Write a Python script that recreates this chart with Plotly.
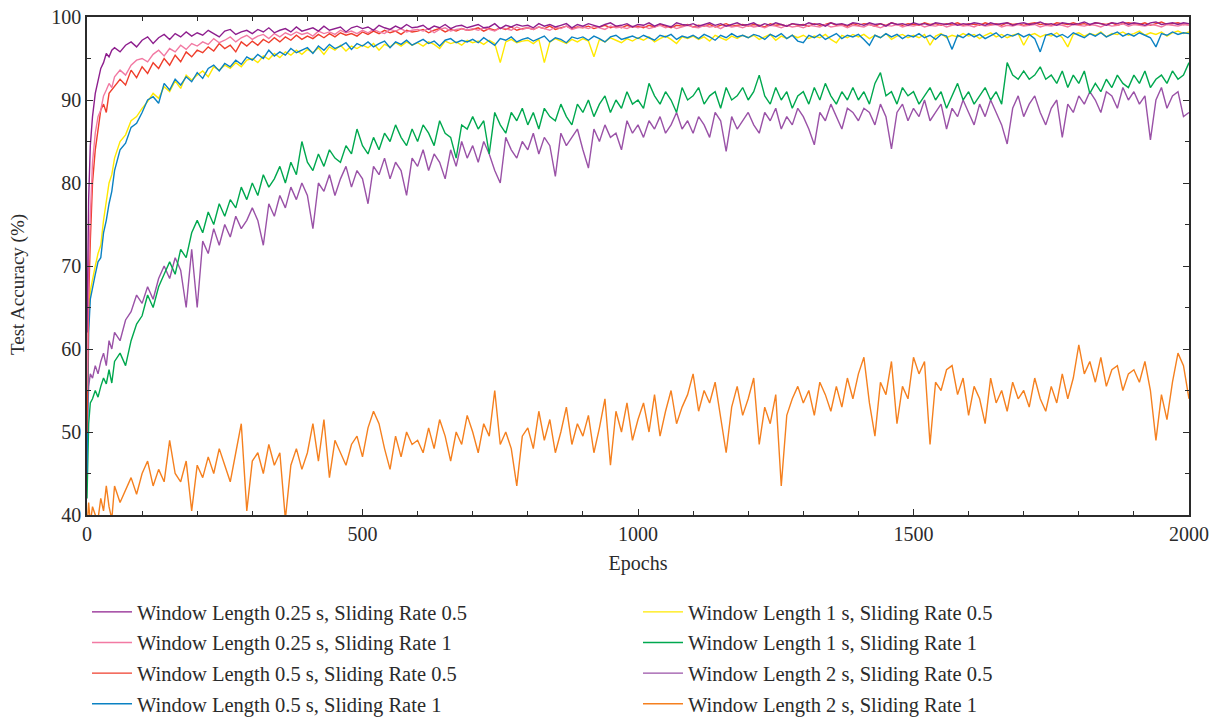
import plotly.graph_objects as go

# ---------------- data ----------------
EARLY_EPOCHS = [0, 3, 6, 10, 15, 20, 25, 30, 35, 40, 45]
EPOCHS = EARLY_EPOCHS + list(range(50, 2001, 10))

NAMES = [
    "Window Length 0.25 s, Sliding Rate 0.5",
    "Window Length 0.25 s, Sliding Rate 1",
    "Window Length 0.5 s, Sliding Rate 0.5",
    "Window Length 0.5 s, Sliding Rate 1",
    "Window Length 1 s, Sliding Rate 0.5",
    "Window Length 1 s, Sliding Rate 1",
    "Window Length 2 s, Sliding Rate 0.5",
    "Window Length 2 s, Sliding Rate 1",
]
COLORS = ["#8e1f8e", "#f27aa3", "#ef3e2c", "#0b82c3",
          "#ffe900", "#00a84f", "#9a52a7", "#f5801f"]

wl025_sr05 = [
    62.0, 78.0, 84.5, 88.0, 90.8, 92.5, 93.8, 94.5, 95.6, 95.2, 96.0,
    96.3, 95.8, 96.6, 97.0, 96.4,
    97.2, 97.6, 96.8, 97.5, 97.9, 97.3, 98.0, 97.6, 98.2, 97.7,
    98.1, 97.8, 98.4, 98.0, 97.6, 98.3, 98.5, 97.9, 98.2, 98.4,
    98.0, 98.5, 98.2, 98.7, 98.1, 98.4, 98.6, 98.2, 98.8, 98.3,
    98.5, 98.7, 98.3, 98.9, 98.4, 98.6, 98.8, 98.2, 98.7, 98.9,
    98.6, 98.8, 98.4, 99.0, 98.7, 98.5, 98.9, 98.6, 99.1, 98.7,
    98.8, 99.0, 98.5, 98.9, 98.7, 99.1, 98.6, 98.9, 99.0, 98.7,
    98.9, 99.1, 98.7, 98.8, 99.2, 98.6, 99.0, 98.8, 99.1, 98.9,
    99.0, 98.7, 99.2, 98.9, 99.1, 98.8, 99.0, 99.2, 98.7, 99.1,
    98.9, 99.2, 99.0, 98.8, 99.1, 99.3, 98.9, 99.0, 99.2, 98.8,
    99.1, 99.0, 99.3, 98.9, 99.2, 99.0, 98.8, 99.3, 99.1, 99.0,
    99.2, 98.9, 99.1, 99.3, 99.0, 99.2, 98.9, 99.1, 99.3, 99.0,
    99.1, 99.3, 98.9, 99.2, 99.0, 99.3, 99.1, 98.9, 99.2, 99.1,
    99.0, 99.3, 99.1, 99.2, 98.9, 99.3, 99.1, 99.2, 99.0, 99.3,
    99.2, 99.0, 99.3, 99.1, 99.2, 98.9, 99.3, 99.1, 99.2, 99.0,
    99.3, 99.1, 99.2, 99.0, 99.3, 99.2, 99.1, 99.3, 99.0, 99.2,
    99.1, 99.3, 99.2, 99.0, 99.3, 99.1, 99.2, 99.3, 99.0, 99.2,
    99.3, 99.1, 99.2, 99.4, 99.1, 99.2, 99.0, 99.3, 99.2, 99.1,
    99.2, 99.4, 99.1, 99.3, 99.2, 99.0, 99.3, 99.2, 99.4, 99.1,
    99.3, 99.2, 99.0, 99.3, 99.4, 99.1, 99.2, 99.3, 99.1, 99.3,
    99.2,
]

wl025_sr1 = [
    55.0, 70.0, 76.0, 82.5, 86.0, 88.0, 88.8, 90.5, 91.2, 92.0, 91.5,
    92.8, 93.6, 93.0, 94.2, 94.8,
    95.0, 94.6, 95.5, 96.0, 95.3, 96.2, 95.8, 96.6, 96.1, 96.8,
    96.5, 97.0, 96.7, 97.4, 96.9, 97.2, 97.6, 97.0, 97.5, 97.8,
    97.3, 97.7, 97.9, 97.4, 98.0, 97.6, 98.1, 97.8, 98.2, 97.9,
    98.1, 97.7, 98.3, 98.0, 98.2, 97.9, 98.4, 98.1, 98.3, 98.0,
    98.4, 98.1, 98.5, 98.2, 98.0, 98.5, 98.3, 98.6, 98.2, 98.4,
    98.5, 98.3, 98.6, 98.1, 98.5, 98.7, 98.3, 98.5, 98.6, 98.4,
    98.6, 98.4, 98.7, 98.5, 98.3, 98.7, 98.6, 98.4, 98.8, 98.5,
    98.7, 98.5, 98.8, 98.6, 98.4, 98.8, 98.6, 98.9, 98.5, 98.7,
    98.8, 98.6, 98.9, 98.7, 98.5, 98.9, 98.7, 98.8, 98.6, 98.9,
    98.7, 98.9, 98.6, 98.8, 99.0, 98.7, 98.9, 98.6, 98.8, 99.0,
    98.8, 98.7, 99.0, 98.8, 98.9, 98.6, 99.0, 98.8, 98.9, 98.7,
    99.0, 98.8, 98.9, 98.7, 99.0, 98.9, 98.7, 99.0, 98.8, 98.9,
    98.7, 99.0, 98.9, 98.8, 99.1, 98.8, 98.9, 99.0, 98.7, 99.0,
    98.9, 98.8, 99.1, 98.9, 98.7, 99.0, 98.9, 99.1, 98.8, 99.0,
    98.9, 99.1, 98.8, 99.0, 98.9, 99.1, 98.8, 99.0, 99.1, 98.9,
    99.0, 98.8, 99.1, 98.9, 99.0, 99.1, 98.8, 99.0, 98.9, 99.1,
    98.9, 99.0, 99.1, 98.8, 99.0, 98.9, 99.1, 99.0, 98.8, 99.1,
    99.0, 98.9, 99.1, 99.0, 98.8, 99.1, 98.9, 99.0, 99.2, 98.9,
    99.1, 99.0, 98.9, 99.1, 99.0, 98.8, 99.1, 99.0, 98.9, 99.1,
    99.0,
]

wl05_sr05 = [
    50.0, 66.0, 73.0, 80.0, 84.0, 86.5, 88.8, 89.5, 88.5, 90.8, 91.2,
    91.6, 92.5, 91.8, 93.6, 92.7,
    94.0, 93.2, 94.5, 93.8, 95.0, 94.2, 95.4, 94.6, 95.8, 95.2,
    96.0, 95.7, 96.4, 95.9, 96.8, 96.2, 96.6, 95.8, 97.0, 96.5,
    97.1, 96.6, 97.3, 96.9, 97.5, 97.0, 97.6, 97.2, 97.8, 97.3,
    97.7, 97.4, 97.9, 97.5, 98.0, 97.6, 98.1, 97.8, 98.0, 97.7,
    98.2, 97.9, 98.3, 98.0, 98.4, 98.1, 98.3, 97.9, 98.4, 98.2,
    98.3, 98.5, 98.1, 98.4, 98.6, 98.2, 98.5, 98.3, 98.6, 98.4,
    98.5, 98.7, 98.3, 98.6, 98.4, 98.7, 98.5, 98.8, 98.4, 98.6,
    98.7, 98.5, 98.8, 98.6, 98.9, 98.5, 98.7, 98.9, 98.6, 98.8,
    98.7, 98.9, 98.6, 98.8, 99.0, 98.7, 98.9, 98.7, 99.0, 98.8,
    98.9, 98.7, 99.0, 98.8, 99.1, 98.9, 98.7, 99.0, 98.9, 99.1,
    98.8, 99.0, 98.9, 99.1, 98.8, 99.0, 99.2, 98.9, 99.0, 99.1,
    98.9, 99.1, 99.0, 98.8, 99.2, 99.0, 99.1, 98.9, 99.2, 99.0,
    99.1, 98.9, 99.2, 99.0, 99.1, 99.3, 99.0, 99.1, 98.9, 99.2,
    99.0, 99.2, 99.1, 98.9, 99.2, 99.0, 99.3, 99.1, 99.0, 99.2,
    99.1, 99.0, 99.3, 99.1, 99.2, 99.0, 99.2, 99.1, 99.3, 99.0,
    99.2, 99.1, 99.0, 99.3, 99.1, 99.2, 99.0, 99.3, 99.1, 99.2,
    99.0, 99.2, 99.3, 99.1, 99.2, 99.0, 99.3, 99.2, 99.1, 99.3,
    99.1, 99.2, 99.0, 99.3, 99.2, 99.1, 99.3, 99.0, 99.2, 99.3,
    99.2, 99.1, 99.3, 99.0, 99.2, 99.4, 99.1, 99.2, 99.3, 99.1,
    99.2,
]

wl05_sr1 = [
    45.0, 62.0, 66.0, 67.5, 69.0, 70.5, 71.0, 74.0, 75.5, 77.5, 79.0,
    81.5, 84.0, 84.8, 86.7, 87.2,
    88.5, 90.0, 90.4, 89.6, 92.0, 91.2, 92.5, 91.8, 92.8, 92.2,
    93.3, 92.6, 93.8, 94.2, 93.5, 94.4, 94.0, 94.8, 94.3, 95.2,
    94.8, 95.5, 95.0, 96.0, 95.3, 95.8, 95.4, 96.2, 95.7, 96.0,
    96.3, 95.6, 96.5, 96.0, 96.7, 96.2, 96.5, 96.9, 96.1, 96.8,
    96.5, 97.0, 96.4, 96.8, 97.1, 96.3, 97.0, 96.7, 97.2, 96.6,
    97.0, 97.3, 96.8, 97.1, 96.5, 97.2, 97.4, 96.9, 97.2, 97.0,
    97.3, 96.9, 97.5, 97.1, 96.6, 97.4, 97.2, 97.6, 97.0, 97.3,
    97.5, 97.1, 97.4, 97.7, 97.0, 97.5, 97.3, 96.9, 97.6, 97.4,
    97.6, 97.2, 97.7, 97.4, 97.0, 97.6, 97.8, 97.3, 97.5, 97.7,
    97.4, 97.8, 97.5, 97.2, 97.8, 97.6, 97.9, 97.3, 97.7, 97.5,
    97.8, 97.4, 97.9, 97.6, 97.2, 97.8, 97.5, 98.0, 97.6, 97.8,
    97.5, 97.9, 97.7, 97.3, 97.9, 97.6, 98.0, 97.4, 97.8, 97.1,
    96.9, 97.8, 97.5, 97.9, 97.3, 97.7, 98.0, 97.4, 97.8, 97.6,
    97.9, 97.3, 96.6, 97.8, 97.5, 98.0, 97.6, 97.9, 97.4, 97.8,
    97.6, 98.0, 97.5, 97.8, 97.3, 97.9, 97.7, 96.1, 97.8, 97.5,
    98.0, 97.6, 97.9, 97.4, 97.8, 98.1, 97.5, 97.9, 97.7, 98.0,
    97.6, 97.9, 97.4, 95.8, 97.8, 98.0, 97.6, 97.9, 97.5, 98.1,
    97.8, 97.5, 98.0, 97.7, 98.1, 97.6, 97.9, 98.2, 97.7, 98.0,
    97.7, 98.1, 97.8, 97.5, 96.4, 98.0, 97.8, 98.2, 97.9, 98.1,
    98.0,
]

wl1_sr05 = [
    50.0, 64.0, 67.0, 68.5, 70.0, 71.5, 72.5, 75.5, 77.5, 80.0, 81.0,
    83.0, 85.0, 85.8, 87.5, 88.0,
    89.0, 89.8, 90.8, 90.2, 91.6, 91.0, 92.3, 91.4, 93.0, 92.4,
    93.0, 93.5, 92.8, 94.0, 93.6, 94.2, 93.8, 94.5, 94.0, 94.8,
    95.0, 94.5, 95.3, 94.9, 95.6, 95.1, 95.8, 95.4, 96.0, 95.5,
    96.1, 95.7, 96.3, 95.5, 96.4, 96.0, 96.6, 95.9, 96.5, 96.2,
    96.6, 96.3, 96.8, 96.0, 96.7, 96.4, 96.9, 96.5, 97.0, 96.6,
    96.9, 96.5, 97.0, 96.7, 96.2, 97.1, 96.8, 97.0, 96.6, 97.2,
    96.9, 97.1, 96.7, 97.2, 96.8, 94.5, 97.0, 97.3, 96.9, 97.1,
    97.2, 96.8, 97.3, 94.5, 97.0, 97.4, 97.1, 96.8, 97.3, 97.0,
    97.4, 97.1, 95.2, 97.3, 97.0, 97.5, 97.2, 96.9, 97.4, 97.1,
    97.5, 97.2, 97.6, 97.0, 97.4, 97.7, 97.3, 96.8, 97.6, 97.4,
    97.7, 97.3, 97.6, 97.1, 97.8, 97.5, 97.2, 97.7, 97.4, 97.8,
    97.5, 97.8, 97.3, 97.6, 97.9, 97.2, 97.7, 97.4, 97.8, 97.5,
    97.8, 97.4, 97.7, 97.5, 97.9, 97.3, 96.9, 97.8, 97.5, 97.9,
    97.6, 97.9, 97.4, 97.8, 97.5, 98.0, 97.3, 97.7, 97.9, 97.5,
    97.8, 97.5, 97.9, 96.6, 97.7, 98.0, 97.5, 97.8, 97.6, 98.0,
    97.7, 97.9, 97.4, 97.8, 98.1, 97.6, 97.9, 97.5, 97.8, 98.0,
    96.6, 97.8, 98.0, 97.6, 97.9, 97.7, 98.1, 97.5, 96.4, 97.9,
    98.1, 97.7, 98.0, 97.8, 98.2, 97.6, 98.0, 97.9, 98.2, 97.8,
    98.0, 98.3, 97.8, 98.1, 97.9, 98.2, 97.7, 98.1, 98.3, 98.0,
    98.2,
]

wl1_sr1 = [
    42.0, 51.0, 53.5, 54.0, 55.0, 54.2, 55.5, 56.5, 55.8, 57.5, 55.9,
    58.5, 59.5, 58.0, 61.0, 63.0,
    64.0, 66.5, 65.0, 67.5, 69.0, 70.5, 69.0, 72.0, 71.0, 74.0,
    75.5, 74.0, 76.5, 75.0, 77.5, 76.0, 78.0, 77.0, 79.5, 78.0,
    80.0, 78.5, 81.0, 79.5, 80.5, 82.0, 80.0, 82.5, 81.0, 85.0,
    82.5, 81.5, 83.5, 82.0, 84.0, 83.0, 82.5, 84.5, 83.5, 86.5,
    84.5, 83.5, 85.5, 84.0, 86.0, 85.0, 87.0, 85.5, 84.5, 86.5,
    85.0, 87.0, 86.0, 84.5, 87.5, 86.0, 85.5, 83.0, 87.0, 86.5,
    88.0, 86.5, 87.5, 83.5, 88.5, 87.0, 86.0, 88.5, 87.5, 89.0,
    87.0, 88.5, 86.5, 89.0, 88.0, 87.5, 89.5, 88.0, 87.0, 89.5,
    88.5, 90.0, 88.0, 89.5, 90.5, 88.5, 90.0, 89.0, 91.0, 89.5,
    90.0, 89.0, 92.0, 90.5, 89.5, 91.0, 90.0, 88.5, 91.5, 90.0,
    90.5, 91.5, 89.5, 90.5, 91.0, 89.0, 91.5, 90.0, 90.5, 91.5,
    90.0, 91.0, 93.0, 90.5, 89.5, 91.5, 90.0, 91.0, 89.0, 90.5,
    91.0, 89.5, 91.5, 90.0, 92.0, 90.5, 89.5, 91.0, 90.0, 91.5,
    90.0, 91.0, 89.5, 92.0, 93.3, 90.5, 91.0, 89.5, 91.5, 90.5,
    91.0, 89.5, 90.5, 91.5, 90.0, 91.0, 89.0, 90.5, 92.0, 90.0,
    91.0, 89.5, 90.5, 91.5, 90.0, 91.0, 89.5, 94.5, 93.0, 92.5,
    93.5, 92.5, 93.0, 94.0, 92.5, 93.0, 92.0, 93.5, 91.5, 93.0,
    92.0, 93.5, 90.8, 92.0, 91.0, 92.5, 91.5, 93.0, 92.0, 91.5,
    93.0, 92.0, 93.5, 91.5, 92.5, 93.0, 92.0, 93.5, 92.5, 93.0,
    94.5,
]

wl2_sr05 = [
    50.0, 55.5, 57.0, 56.5, 58.0, 57.0, 58.5, 59.5, 58.0, 61.0, 60.0,
    62.0, 61.0, 63.5, 64.5, 66.5,
    65.5, 67.5, 66.0, 68.5, 70.0, 68.5, 71.0, 69.5, 65.0, 72.0,
    65.0, 73.0, 71.5, 74.5, 72.5, 75.0, 73.5, 76.0, 74.5, 75.5,
    77.0, 75.5, 72.5, 77.5, 76.0, 78.5, 77.0, 79.5, 78.0, 80.0,
    78.5, 74.5, 80.0, 79.0, 81.0, 78.5, 80.5, 82.0, 79.5, 81.5,
    80.5, 77.5, 82.0, 81.0, 83.0, 80.5, 82.5, 81.5, 78.5, 83.0,
    82.0, 84.0, 81.5, 83.5, 82.5, 80.5, 84.0, 82.0, 85.0, 83.0,
    84.5, 82.5, 85.0, 83.5, 81.5, 80.0, 85.5, 84.0, 83.0, 85.0,
    84.0, 86.0, 83.5, 85.5, 84.5, 80.8, 86.0, 84.5, 85.5, 86.5,
    84.0, 81.8, 86.5, 85.0, 87.0, 85.5, 86.0, 84.0, 87.5, 86.0,
    87.0, 85.5, 87.5, 86.5, 88.0, 86.0, 87.0, 88.5, 86.5, 87.5,
    86.0, 88.0, 87.0, 85.5, 88.5, 87.5, 83.8, 88.0, 86.5, 87.5,
    88.5, 87.0, 86.0, 88.5, 87.5, 89.0, 86.5, 88.0, 87.0, 89.0,
    88.0, 86.5, 84.6, 88.5, 87.5, 89.5, 88.0, 86.5, 89.0, 88.5,
    87.5, 89.0, 88.5, 87.0, 89.5, 88.0, 84.1, 88.5, 89.5, 87.5,
    89.0, 88.0, 90.0, 87.5, 88.5, 89.5, 86.5, 89.0, 88.0, 90.0,
    88.5, 87.0, 89.5, 88.0, 90.0, 88.5, 87.0, 84.7, 89.0, 90.5,
    88.0, 89.5, 90.5, 88.5, 87.0, 89.0, 90.0, 85.5, 89.5, 88.5,
    90.5, 89.5, 91.0, 90.0, 88.5, 91.0, 90.5, 89.0, 91.5, 90.0,
    91.0, 89.5, 90.5, 85.2, 90.0, 91.5, 89.0, 90.5, 91.0, 88.0,
    88.5,
]

wl2_sr1 = [
    38.5, 41.5, 39.0, 41.0, 40.0, 39.5, 42.0, 40.5, 43.5, 41.0, 39.5,
    43.5, 41.5, 43.0, 44.5, 42.5,
    45.0, 46.5, 43.5, 45.5, 44.0, 49.0, 45.0, 44.0, 46.5, 40.5,
    46.0, 44.5, 47.0, 45.0, 48.0, 46.0, 44.0, 47.5, 51.0, 40.5,
    46.5, 47.5, 45.0, 48.5, 46.0, 47.5, 39.5, 46.0, 48.0, 45.5,
    47.5, 51.0, 46.5, 51.5, 44.5, 49.0, 47.5, 46.0, 48.5, 49.5,
    47.0, 50.5, 52.5, 51.0, 48.0, 45.5, 49.5, 47.0, 50.0, 48.5,
    49.0, 47.5, 50.5, 48.0, 51.5, 49.5, 46.5, 50.0, 48.5, 52.0,
    50.0, 47.5, 51.0, 49.5, 55.0, 48.5, 50.0, 48.0, 43.5, 49.5,
    50.5, 48.0, 52.5, 49.0, 51.5, 47.5, 50.0, 53.0, 48.5, 51.0,
    49.5, 52.0, 47.5, 50.5, 54.0, 46.0, 52.5, 50.0, 53.5, 49.0,
    51.5, 53.5, 50.0, 54.5, 49.5, 52.5, 55.0, 51.0, 53.0, 54.5,
    57.0, 52.5, 55.0, 53.5, 56.0, 51.5, 47.5, 53.0, 55.5, 52.0,
    54.0, 56.5, 48.5, 53.0, 51.0, 54.5, 43.5, 52.0, 54.0, 55.5,
    53.5, 55.0, 52.0, 56.0, 54.5, 52.5, 55.5, 53.0, 56.5, 54.0,
    57.0, 59.0, 53.5, 49.5, 56.0, 54.5, 58.5, 51.0, 55.5, 54.0,
    59.0, 57.0, 58.5, 48.5, 56.0, 55.0, 57.5, 58.0, 54.5, 56.5,
    52.0, 55.5, 54.0, 51.0, 56.5, 53.5, 55.0, 52.5, 56.0, 54.0,
    55.0, 53.0, 56.5, 54.0, 52.5, 55.5, 53.5, 57.0, 54.0, 56.5,
    60.5, 57.0, 58.5, 56.0, 59.0, 55.5, 57.5, 58.0, 55.0, 57.0,
    57.5, 56.0, 58.5, 55.0, 49.0, 54.5, 51.5, 56.0, 59.5, 58.0,
    54.0,
]

SERIES = [wl025_sr05, wl025_sr1, wl05_sr05, wl05_sr1,
          wl1_sr05, wl1_sr1, wl2_sr05, wl2_sr1]

X_TICKS = [0, 500, 1000, 1500, 2000]
Y_TICKS = [40, 50, 60, 70, 80, 90, 100]

# ---------------- figure ----------------
FONT = "Liberation Serif"
TXT = "#2b2b2b"
fig = go.Figure()

# draw last series first so the first-listed series sit on top
for i in reversed(range(len(SERIES))):
    fig.add_trace(go.Scatter(
        x=EPOCHS[:len(SERIES[i])], y=SERIES[i], mode="lines", name=NAMES[i],
        line=dict(color=COLORS[i], width=1.4),
        legend="legend" if i < 4 else "legend2",
        legendgroup=f"g{i}", legendrank=i + 1,
    ))

axis_common = dict(
    showline=True, linecolor=TXT, linewidth=1.5, mirror="allticks",
    ticks="inside", ticklen=6, tickwidth=1.2, tickcolor=TXT,
    showgrid=False, zeroline=False,
    tickfont=dict(family=FONT, size=20, color=TXT),
)

fig.update_xaxes(
    range=[0, 2000], tickvals=X_TICKS,
    minor=dict(dtick=100, ticks="inside", ticklen=4, tickcolor=TXT, tickwidth=1),
    title=dict(text="Epochs", font=dict(family=FONT, size=20, color=TXT), standoff=12),
    **axis_common,
)
fig.update_yaxes(
    range=[40, 100], tickvals=Y_TICKS,
    minor=dict(dtick=5, ticks="inside", ticklen=4, tickcolor=TXT, tickwidth=1),
    **axis_common,
)

legend_common = dict(
    font=dict(family=FONT, size=20.5, color=TXT),
    traceorder="grouped", tracegroupgap=1,
    bgcolor="rgba(0,0,0,0)", yanchor="top", xanchor="left",
    xref="container", yref="container",
    itemwidth=40,
)

fig.update_layout(
    width=1220, height=718,
    margin=dict(l=87, r=31, t=17, b=203, autoexpand=False),
    paper_bgcolor="white", plot_bgcolor="white",
    showlegend=True,
    legend=dict(x=87 / 1220, y=1 - 592 / 718, **legend_common),
    legend2=dict(x=638 / 1220, y=1 - 592 / 718, **legend_common),
    annotations=[dict(
        text="Test Accuracy (%)", textangle=-90, showarrow=False,
        xref="paper", yref="paper", x=-69 / 1102, y=230 / 498,
        xanchor="center", yanchor="middle",
        font=dict(family=FONT, size=19, color=TXT),
    )],
)

fig.write_html(
    "out.html",
    config={"displayModeBar": False},
    post_script="document.body.style.margin='0';document.body.style.overflow='hidden';",
)
